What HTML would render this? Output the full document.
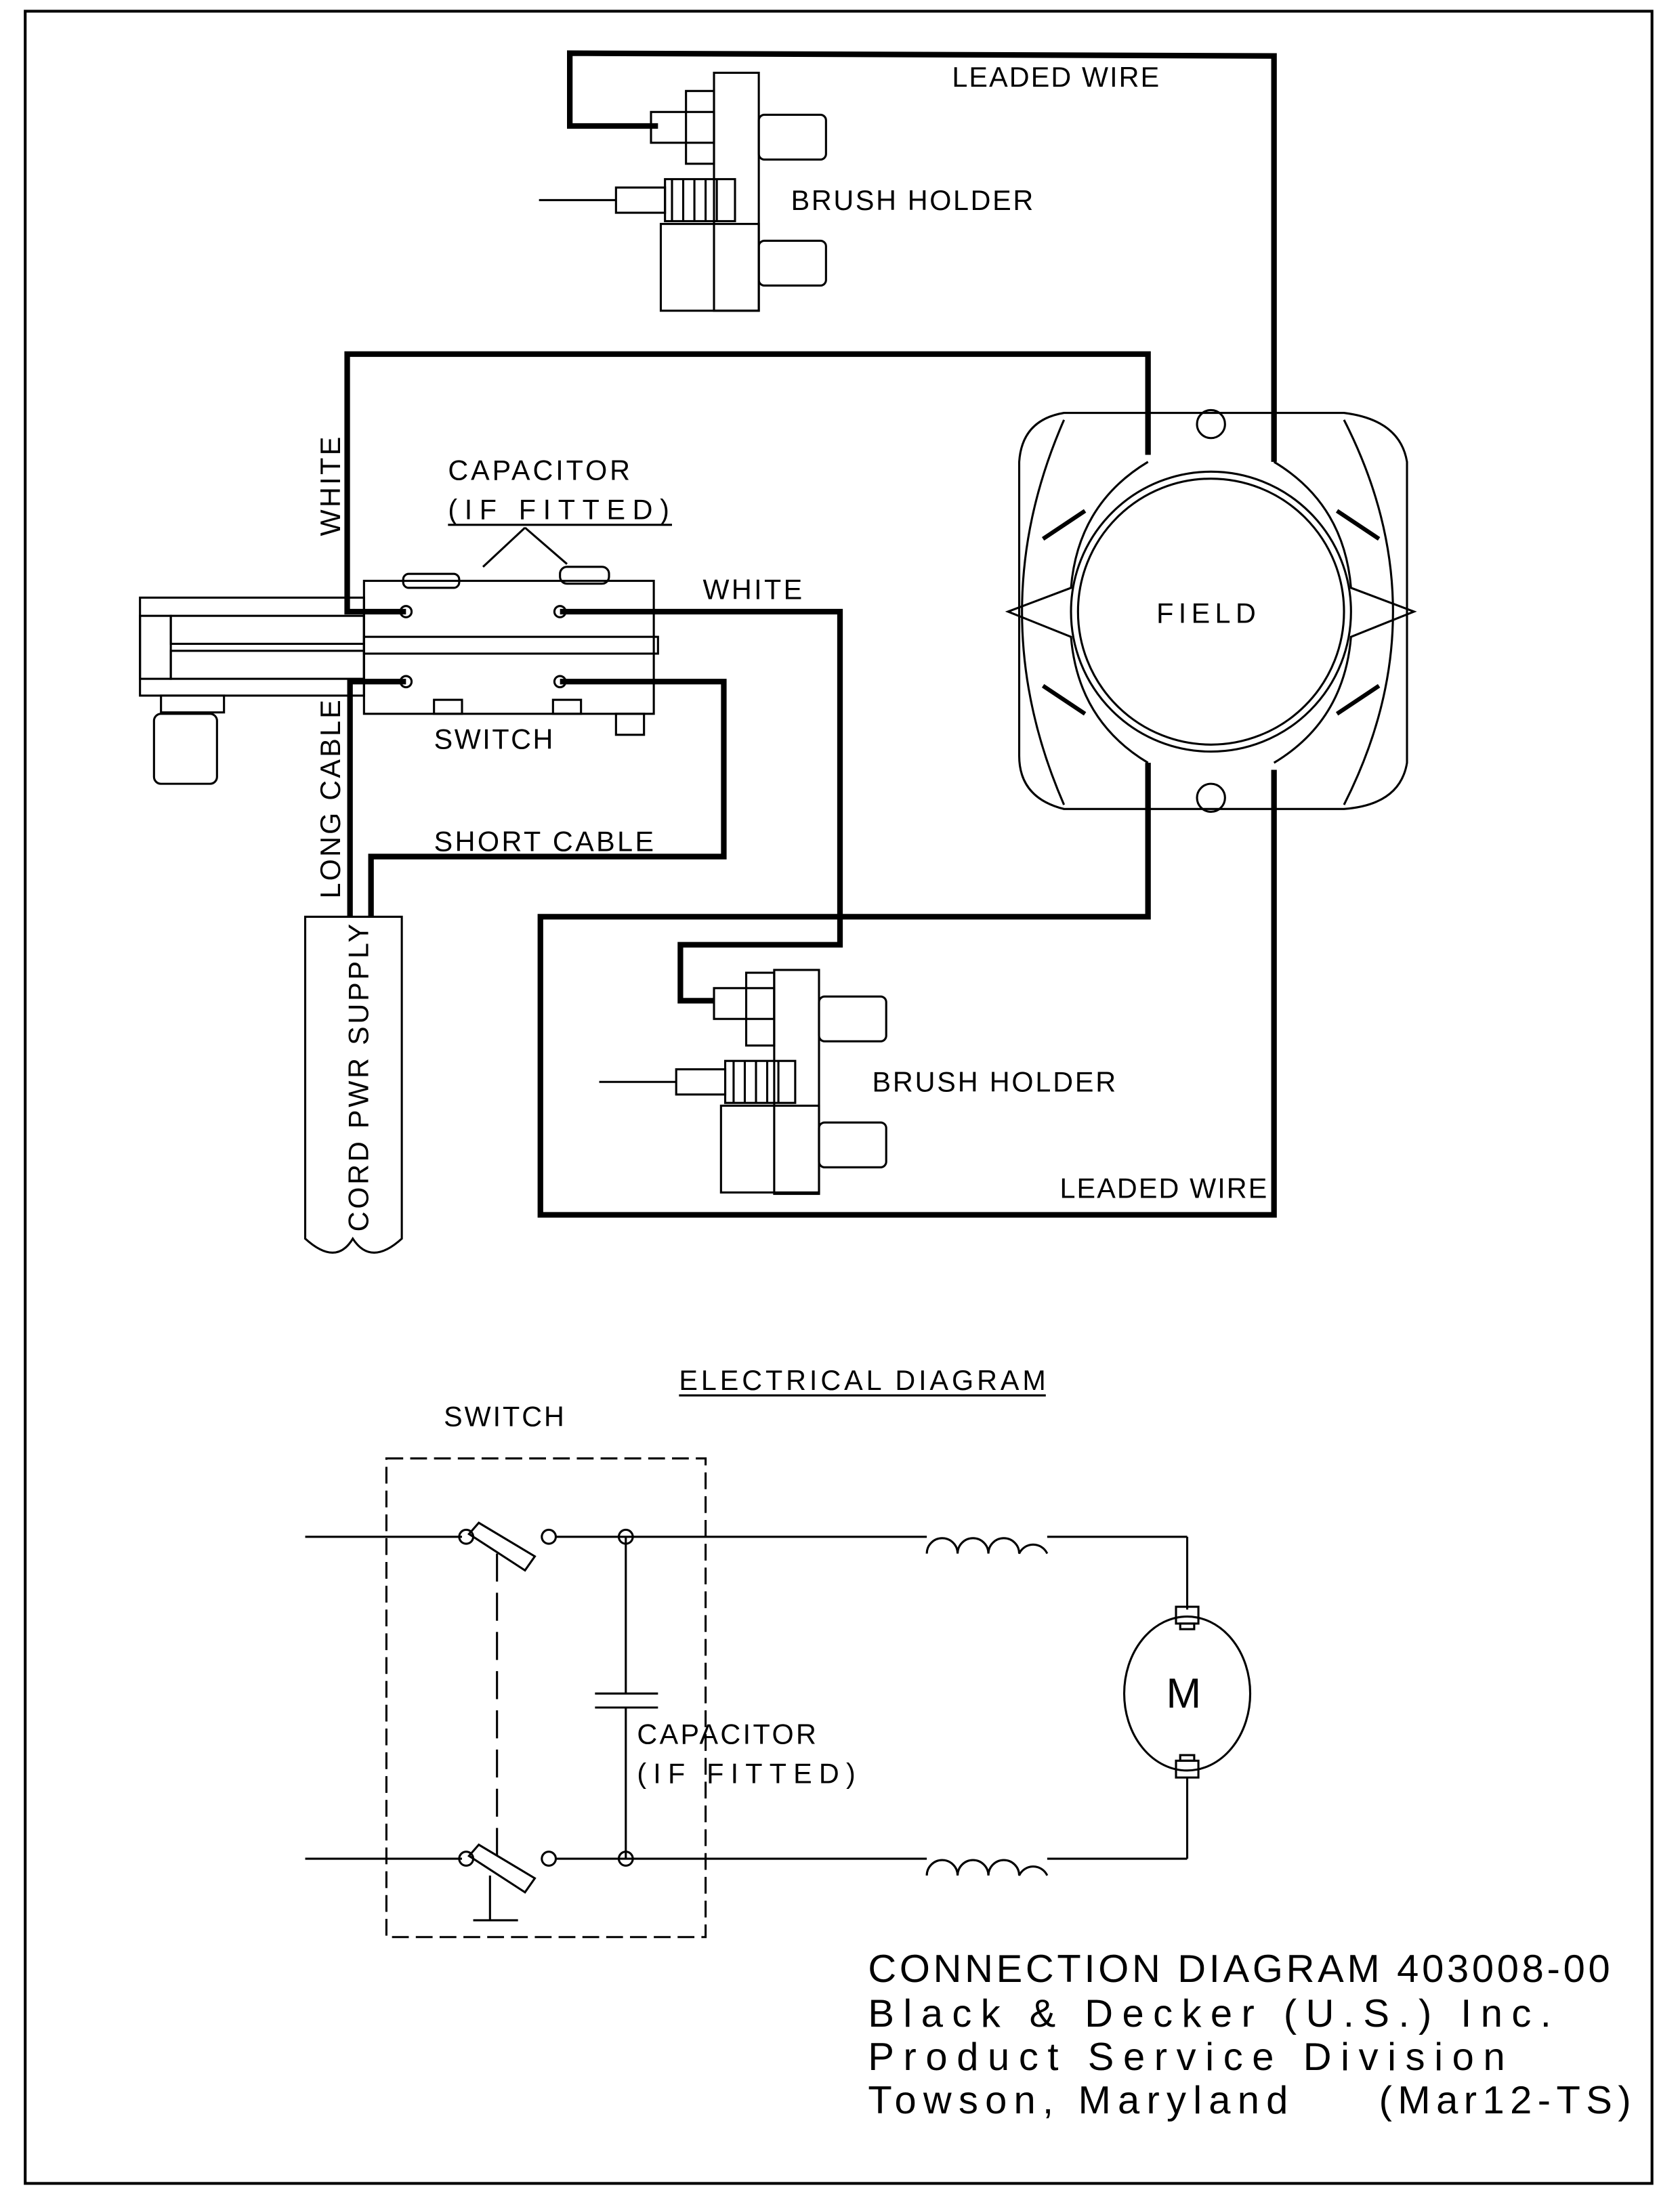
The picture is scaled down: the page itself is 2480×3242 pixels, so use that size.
<!DOCTYPE html>
<html><head><meta charset="utf-8"><style>
html,body{margin:0;padding:0;background:#fff;}
svg{display:block;}
text{font-family:"Liberation Sans",sans-serif;fill:#000;}
</style></head><body>
<svg width="2480" height="3242" viewBox="0 0 1200 1569" preserveAspectRatio="none" xmlns="http://www.w3.org/2000/svg">
<rect x="18" y="8" width="1162" height="1552" fill="none" stroke="#000" stroke-width="2"/>
<g fill="none" stroke="#000" stroke-width="4" stroke-linejoin="miter">
<polyline points="470,90 407,90 407,38 910,40 910,330"/>
<polyline points="910,550 910,868 386,868 386,655 820,655 820,545"/>
<polyline points="820,325 820,253 248,253 248,437 290,437"/>
<polyline points="400,437 600,437 600,675 486,675 486,715 510,715"/>
<polyline points="400,487 517,487 517,612 265,612 265,655"/>
<polyline points="290,487 250,487 250,655"/>
</g>
<g fill="none" stroke="#000" stroke-width="1.5">
<rect x="472" y="160" width="70" height="62"/>
<rect x="510" y="52" width="32" height="170"/>
<rect x="542" y="82" width="48" height="32" rx="4"/>
<rect x="542" y="172" width="48" height="32" rx="4"/>
<rect x="475" y="128" width="50" height="30"/>
<line x1="480" y1="128" x2="480" y2="158"/><line x1="488" y1="128" x2="488" y2="158"/><line x1="496" y1="128" x2="496" y2="158"/><line x1="504" y1="128" x2="504" y2="158"/><line x1="512" y1="128" x2="512" y2="158"/>
<rect x="465" y="80" width="45" height="22"/><rect x="490" y="65" width="20" height="52"/>
<line x1="385" y1="143" x2="440" y2="143"/><rect x="440" y="134" width="35" height="18"/>
<rect x="515" y="790" width="70" height="62"/>
<rect x="553" y="693" width="32" height="160"/>
<rect x="585" y="712" width="48" height="32" rx="4"/>
<rect x="585" y="802" width="48" height="32" rx="4"/>
<rect x="518" y="758" width="50" height="30"/>
<line x1="524" y1="758" x2="524" y2="788"/><line x1="532" y1="758" x2="532" y2="788"/><line x1="540" y1="758" x2="540" y2="788"/><line x1="548" y1="758" x2="548" y2="788"/><line x1="556" y1="758" x2="556" y2="788"/>
<rect x="510" y="706" width="43" height="22"/><rect x="533" y="695" width="20" height="52"/>
<line x1="428" y1="773" x2="483" y2="773"/><rect x="483" y="764" width="35" height="18"/>
<rect x="260" y="415" width="207" height="95"/>
<rect x="260" y="455" width="210" height="12"/>
<rect x="100" y="427" width="160" height="70"/>
<rect x="122" y="440" width="138" height="20"/><rect x="122" y="465" width="138" height="20"/>
<rect x="100" y="440" width="22" height="45"/>
<rect x="115" y="497" width="45" height="12"/>
<rect x="110" y="510" width="45" height="50" rx="5"/>
<rect x="440" y="510" width="20" height="15"/>
<rect x="310" y="500" width="20" height="10"/><rect x="395" y="500" width="20" height="10"/>
<circle cx="290" cy="437" r="4"/><circle cx="400" cy="437" r="4"/><circle cx="290" cy="487" r="4"/><circle cx="400" cy="487" r="4"/>
<rect x="288" y="410" width="40" height="10" rx="4"/><rect x="400" y="405" width="35" height="12" rx="5"/>
<line x1="320" y1="375" x2="480" y2="375"/>
<line x1="375" y1="377" x2="345" y2="405"/><line x1="375" y1="377" x2="405" y2="403"/>
<path d="M218,655 L218,885 Q240,905 252,885 Q265,905 287,885 L287,655 Z"/>
<path d="M760,295 L960,295 Q1000,300 1005,330 L1005,545 Q1000,575 960,578 L760,578 Q728,570 728,540 L728,330 Q730,300 760,295 Z"/>
<path d="M760,300 Q700,437 760,575"/><path d="M960,300 Q1030,437 960,575"/>
<circle cx="865" cy="437" r="100"/>
<circle cx="865" cy="437" r="95"/>
<circle cx="865" cy="303" r="10"/><circle cx="865" cy="570" r="10"/>
<path d="M820,330 Q770,360 765,420 L720,437 L765,455 Q770,515 820,545"/>
<path d="M910,330 Q960,360 965,420 L1010,437 L965,455 Q960,515 910,545"/>
<path d="M745,385 L775,365" stroke-width="3"/><path d="M985,385 L955,365" stroke-width="3"/>
<path d="M745,490 L775,510" stroke-width="3"/><path d="M985,490 L955,510" stroke-width="3"/>
</g>
<g font-size="20">
<text x="680" y="62" textLength="148" lengthAdjust="spacing">LEADED WIRE</text>
<text x="565" y="150" textLength="173" lengthAdjust="spacing">BRUSH HOLDER</text>
<text x="320" y="343" textLength="130" lengthAdjust="spacing">CAPACITOR</text>
<text x="320" y="371" textLength="158" lengthAdjust="spacing">(IF FITTED)</text>
<text x="502" y="428" textLength="71" lengthAdjust="spacing">WHITE</text>
<text x="826" y="445" textLength="71" lengthAdjust="spacing">FIELD</text>
<text x="310" y="535" textLength="85" lengthAdjust="spacing">SWITCH</text>
<text x="310" y="608" textLength="157" lengthAdjust="spacing">SHORT CABLE</text>
<text x="623" y="780" textLength="174" lengthAdjust="spacing">BRUSH HOLDER</text>
<text x="757" y="856" textLength="148" lengthAdjust="spacing">LEADED WIRE</text>
<text transform="translate(243,383) rotate(-90)" textLength="71" lengthAdjust="spacing">WHITE</text>
<text transform="translate(243,642) rotate(-90)" textLength="142" lengthAdjust="spacing">LONG CABLE</text>
<text transform="translate(263,880) rotate(-90)" textLength="220" lengthAdjust="spacing">CORD PWR SUPPLY</text>
<text x="485" y="993" textLength="262" lengthAdjust="spacing">ELECTRICAL DIAGRAM</text>
<text x="317" y="1019" textLength="86" lengthAdjust="spacing">SWITCH</text>
<text x="455" y="1246" textLength="128" lengthAdjust="spacing">CAPACITOR</text>
<text x="455" y="1274" textLength="156" lengthAdjust="spacing">(IF FITTED)</text>
<text x="833" y="1220" font-size="30">M</text>
</g>
<line x1="485" y1="997" x2="747" y2="997" stroke="#000" stroke-width="1.5"/>
<g fill="none" stroke="#000" stroke-width="1.5">
<rect x="276" y="1042" width="228" height="342" stroke-dasharray="12,5"/>
<line x1="355" y1="1110" x2="355" y2="1330" stroke-dasharray="20,8"/>
<line x1="218" y1="1098" x2="330" y2="1098"/>
<line x1="397" y1="1098" x2="662" y2="1098"/>
<line x1="748" y1="1098" x2="848" y2="1098"/><line x1="848" y1="1098" x2="848" y2="1150"/>
<line x1="218" y1="1328" x2="330" y2="1328"/>
<line x1="397" y1="1328" x2="662" y2="1328"/>
<line x1="748" y1="1328" x2="848" y2="1328"/><line x1="848" y1="1328" x2="848" y2="1270"/>
<circle cx="333" cy="1098" r="5"/><circle cx="392" cy="1098" r="5"/><circle cx="447" cy="1098" r="5"/>
<circle cx="333" cy="1328" r="5"/><circle cx="392" cy="1328" r="5"/><circle cx="447" cy="1328" r="5"/>
<path d="M335,1096 L375,1122 L382,1112 L342,1088 Z"/>
<path d="M335,1326 L375,1352 L382,1342 L342,1318 Z"/>
<line x1="350" y1="1340" x2="350" y2="1372"/><line x1="338" y1="1372" x2="370" y2="1372"/>
<line x1="447" y1="1098" x2="447" y2="1210"/><line x1="447" y1="1220" x2="447" y2="1328"/>
<line x1="425" y1="1210" x2="470" y2="1210"/><line x1="425" y1="1220" x2="470" y2="1220"/>
<path d="M662,1110 a11,11 0 0 1 22,0 a11,11 0 0 1 22,0 a11,11 0 0 1 22,0 a11,11 0 0 1 20,0"/>
<path d="M662,1340 a11,11 0 0 1 22,0 a11,11 0 0 1 22,0 a11,11 0 0 1 22,0 a11,11 0 0 1 20,0"/>
<ellipse cx="848" cy="1210" rx="45" ry="55"/>
<rect x="840" y="1148" width="16" height="12"/><rect x="843" y="1160" width="10" height="4"/>
<rect x="840" y="1258" width="16" height="12"/><rect x="843" y="1254" width="10" height="4"/>
</g>
<g font-size="28">
<text x="620" y="1416" textLength="530" lengthAdjust="spacing">CONNECTION DIAGRAM 403008-00</text>
<text x="620" y="1448" textLength="488" lengthAdjust="spacing">Black &amp; Decker (U.S.) Inc.</text>
<text x="620" y="1479" textLength="455" lengthAdjust="spacing">Product Service Division</text>
<text x="620" y="1510" textLength="300" lengthAdjust="spacing">Towson, Maryland</text>
<text x="985" y="1510" textLength="180" lengthAdjust="spacing">(Mar12-TS)</text>
</g>
</svg>
</body></html>
